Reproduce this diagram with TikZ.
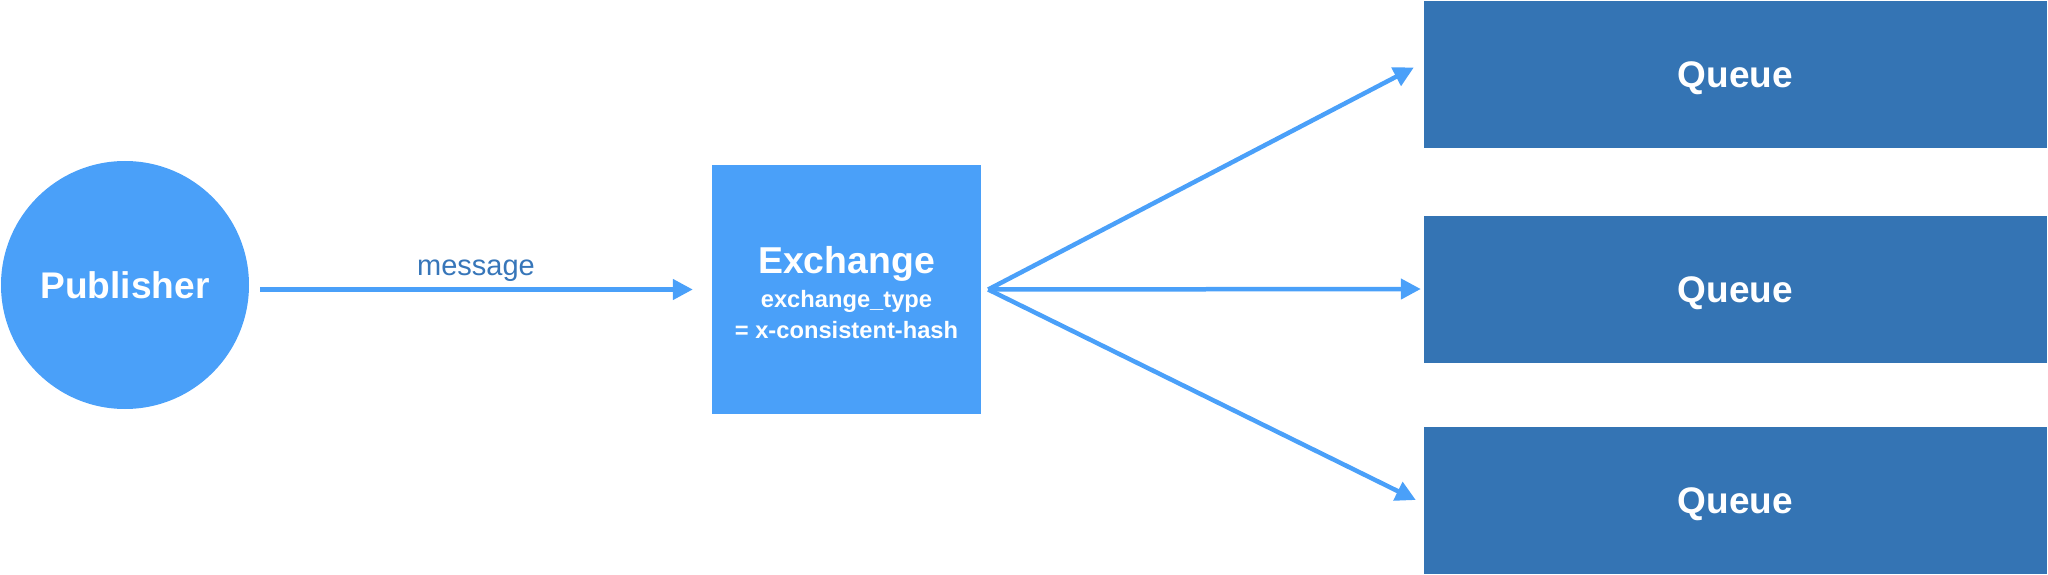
\documentclass[tikz,border=0pt]{standalone}
\usepackage{fontspec}
\setmainfont{Liberation Sans}
\usetikzlibrary{arrows.meta}
\definecolor{lblue}{RGB}{74,160,249}
\definecolor{dblue}{RGB}{52,116,180}
\definecolor{msgblue}{RGB}{55,118,185}
\begin{document}
\begin{tikzpicture}[x=1pt,y=-1pt,
  arr/.style={draw=lblue, line width=4.5pt, -{Triangle[length=20pt,width=20pt]}},
  queuebox/.style={fill=dblue, minimum width=623pt, minimum height=147pt, inner sep=0pt,
    text=white, text height=26.5pt, text depth=0pt, font=\fontsize{37}{44}\selectfont\bfseries},
  bigtxt/.style={text=white, font=\fontsize{37.4}{42}\selectfont\bfseries},
  smalltxt/.style={anchor=base, text=white, inner sep=0pt, font=\fontsize{23.7}{28}\selectfont\bfseries}]
\useasboundingbox (0,0) rectangle (2048,575);
\node[circle, fill=lblue, minimum size=248pt, inner sep=0pt, text=white,
  text height=26.5pt, text depth=0pt,
  font=\fontsize{37.1}{44}\selectfont\bfseries] (pub) at (125,285) {Publisher};
\node[fill=lblue, minimum width=269pt, minimum height=249pt, inner sep=0pt] (ex) at (846.5,289.5) {};
\node[bigtxt, anchor=base, inner sep=0pt] (exT1) at (846.5,273) {Exchange};
\node[smalltxt] (exT2) at (846.5,307) {exchange\_type};
\node[smalltxt] (exT3) at (846.5,338) {= x-consistent-hash};
\node[queuebox] (q1) at (1735.5,74.5) {Queue};
\node[queuebox] (q2) at (1735.5,289) {Queue};
\node[queuebox] (q3) at (1735.5,500) {Queue};
\draw[arr] ([xshift=11pt]pub.east |- ex.west) coordinate (mstart) -- ([xshift=-19pt]ex.west) coordinate (mend);
\node[anchor=base, inner sep=0pt, text=msgblue, font=\fontsize{29}{34}\selectfont] (msg) at (476,275) {message};
\draw[arr] ([xshift=7pt]ex.east) -- ([xshift=-10pt,yshift=7pt]q1.west);
\draw[arr] ([xshift=7pt]ex.east) -- ([xshift=-3pt]q2.west);
\draw[arr] ([xshift=7pt]ex.east) -- ([xshift=-8pt]q3.west);
\end{tikzpicture}
\end{document}
